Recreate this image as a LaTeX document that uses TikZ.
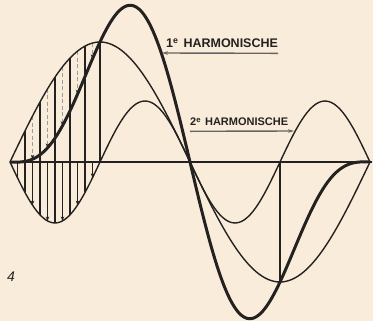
\documentclass[tikz,border=0pt]{standalone}
\usepackage{fontspec}
\setmainfont{Liberation Sans}
\usepackage{tikz}
\usetikzlibrary{arrows.meta,positioning,calc}
\definecolor{paper}{RGB}{250,236,218}
\definecolor{ink}{RGB}{36,34,32}

\begin{document}
\begin{tikzpicture}[
  x=1pt, y=-1pt,
  harm/.style={draw=ink, line width=1.4pt},
  total/.style={draw=ink, line width=3pt, line join=round},
  hatch/.style={draw=ink, line width=1.2pt},
  arrow/.style={hatch, -{Stealth[length=4.5pt,width=3.5pt]}},
  barrow/.style={arrow, draw=ink!45, dash pattern=on 4pt off 2.5pt, line width=1.6pt,
    -{Stealth[length=4.5pt,width=3.5pt,color=ink]}},
  lab/.style={inner sep=0pt, anchor=base west, text=ink},
  larrow/.style={draw=ink!70, line width=1.4pt, -{Stealth[length=6pt,width=3.5pt]}}
]
\fill[paper] (0,0) rectangle (373,321);
\useasboundingbox (0,0) rectangle (373,321);

\foreach \t in {15,30,...,90}
  \draw[hatch] ({10+\t},{162-120*sin(\t)}) -- ({10+\t},{162+61*sin(2*\t)});
\draw[hatch] (17.5,162) -- (17.5,{162+61*sin(15)});
\foreach \t in {22.5,37.5,...,82.5} {
  \draw[barrow] ({10+\t},{162-120*sin(\t)}) -- ({10+\t},{162-120*sin(\t)+61*sin(2*\t)});
  \draw[arrow] ({10+\t},162) -- ({10+\t},{162+61*sin(2*\t)});
}

\coordinate (o) at (10,162);
\coordinate (e) at (372,162);
\draw[harm] (o) -- (e);
\draw[hatch] (280,162) -- (280,282);

\draw[harm] plot[domain=0:360, samples=121, smooth] ({10+\x},{162-120*sin(\x)});
\draw[harm] plot[domain=0:360, samples=121, smooth] ({10+\x},{162+61*sin(2*\x)});
\draw[total] plot[domain=0:360, samples=121, smooth]
  ({10+\x},{162-120*sin(\x)+61*sin(2*\x)});

\node[lab, font=\bfseries\fontsize{12.5}{12.5}\selectfont] (h1) at (166,48)
  {1\textsuperscript{e}\hspace{5pt}HARMONISCHE};
\coordinate (t1) at (162,53);
\draw[larrow] ([yshift=-5pt]h1.south east) -- (t1);

\node[lab, font=\bfseries\fontsize{11}{11}\selectfont] (h2) at (190,126)
  {2\textsuperscript{e}\hspace{4pt}HARMONISCHE};
\coordinate (t2) at (294,131);
\draw[larrow] ([yshift=-5pt]h2.south west) -- (t2);

\node[lab, font=\itshape\fontsize{14}{14}\selectfont] (fig) at (7,282) {4};

\end{tikzpicture}
\end{document}
